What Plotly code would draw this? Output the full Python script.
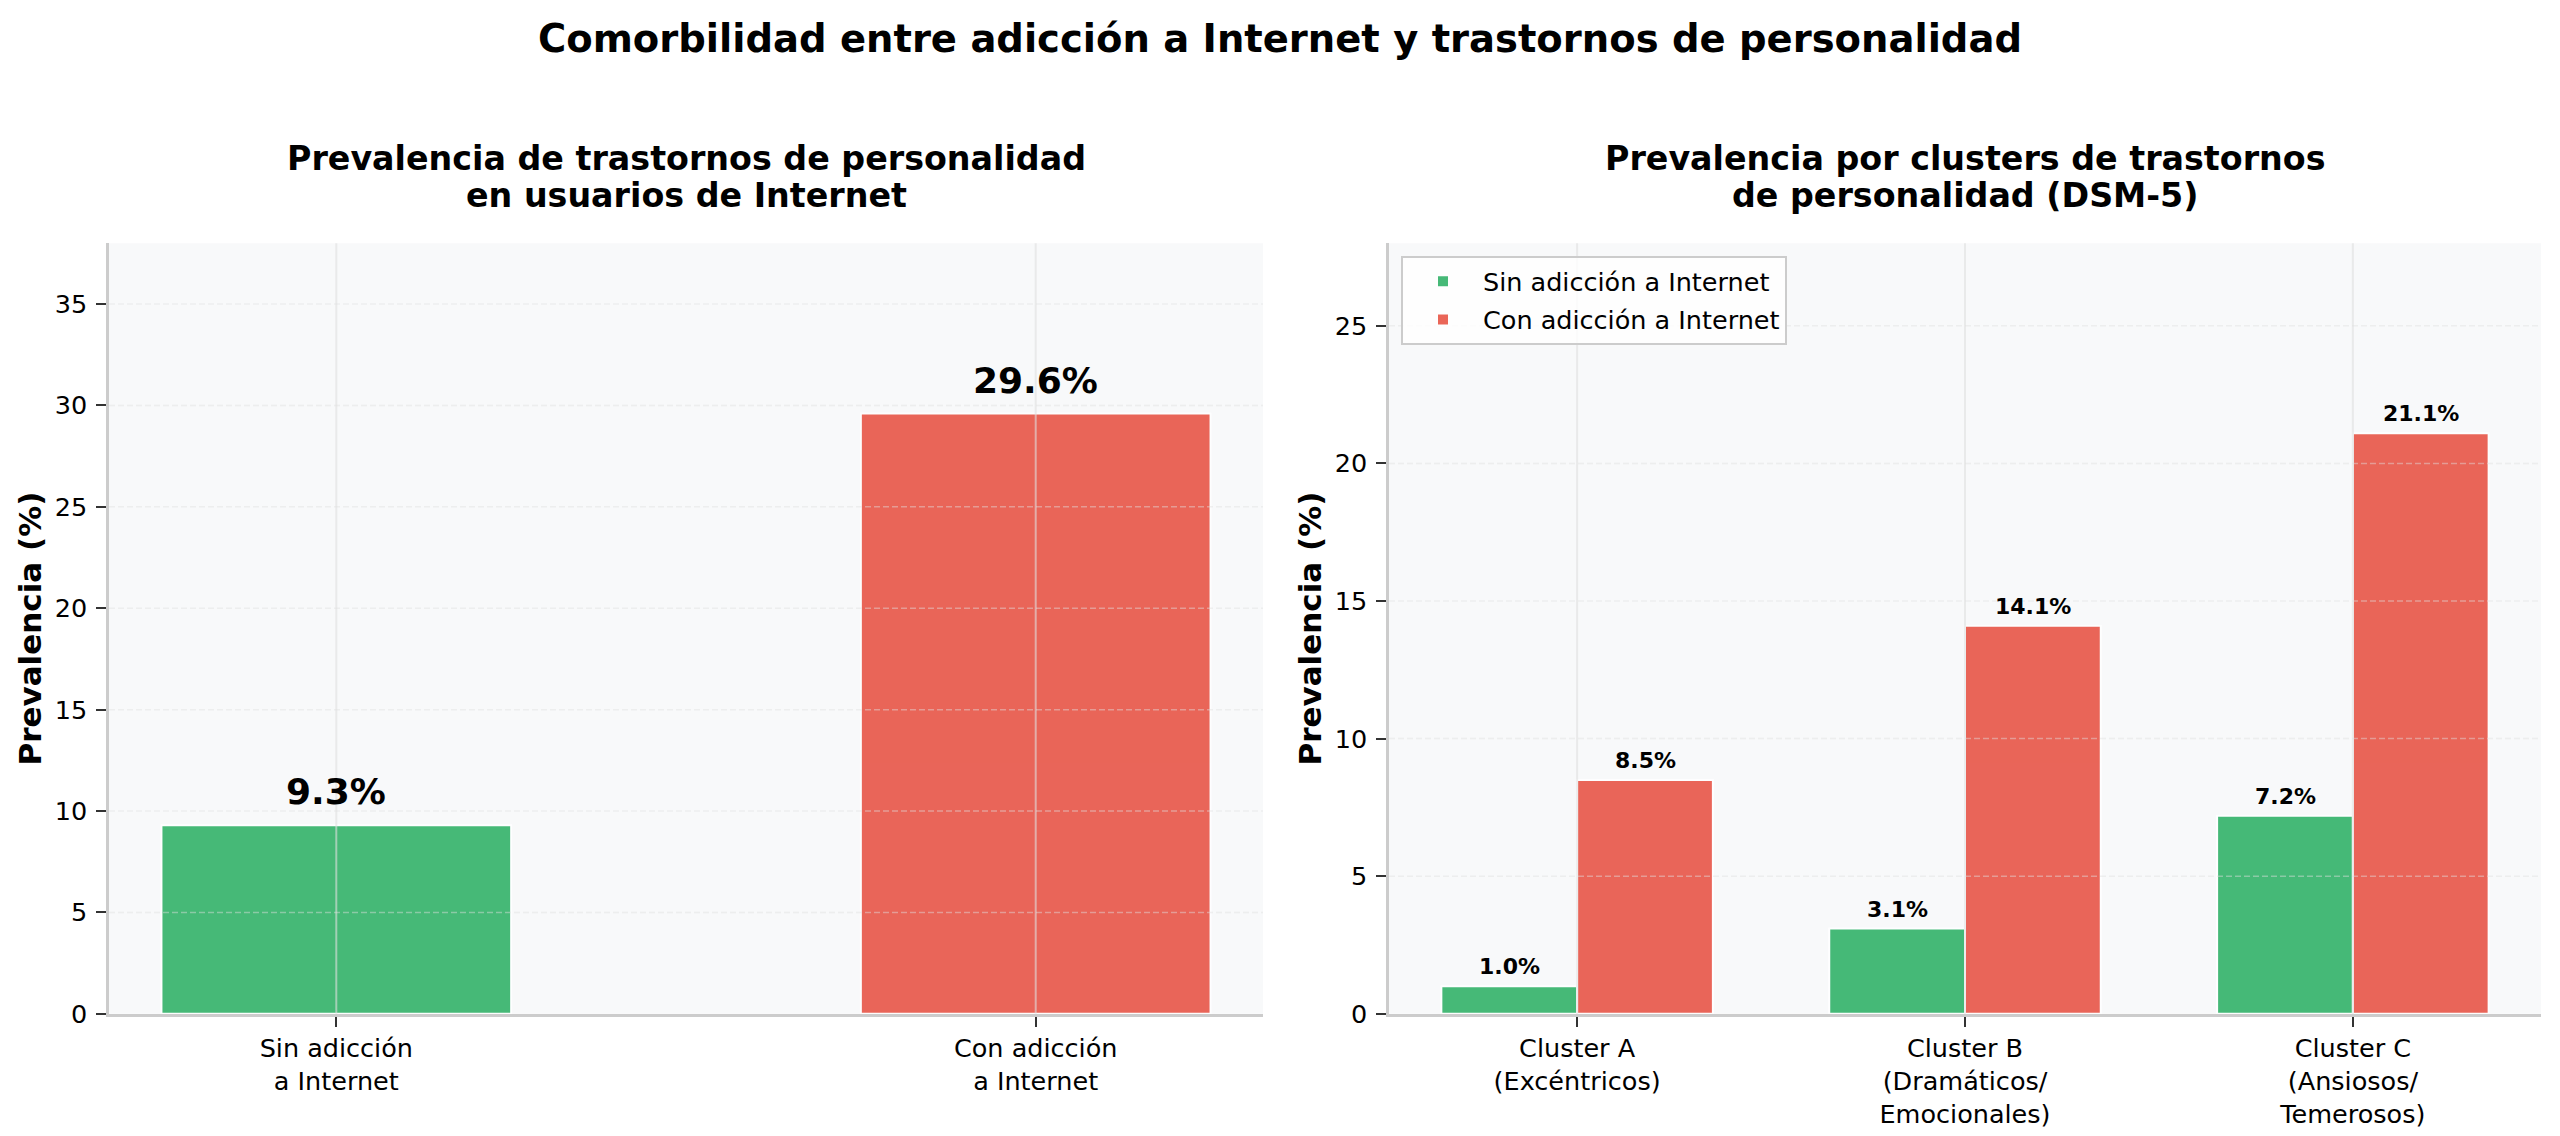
import plotly.graph_objects as go

# ---------------- data ----------------
left_categories = ["Sin adicción<br>a Internet", "Con adicción<br>a Internet"]
left_values = [9.3, 29.6]

cluster_labels = ["Cluster A<br>(Excéntricos)",
                  "Cluster B<br>(Dramáticos/<br>Emocionales)",
                  "Cluster C<br>(Ansiosos/<br>Temerosos)"]
sin_values = [1.0, 3.1, 7.2]
con_values = [8.5, 14.1, 21.1]

series_names = ["Sin adicción a Internet", "Con adicción a Internet"]
left_yticks = [0, 5, 10, 15, 20, 25, 30, 35]
right_yticks = [0, 5, 10, 15, 20, 25]

suptitle = "Comorbilidad entre adicción a Internet y trastornos de personalidad"
left_title = ["Prevalencia de trastornos de personalidad", "en usuarios de Internet"]
right_title = ["Prevalencia por clusters de trastornos", "de personalidad (DSM-5)"]
ylabel = "Prevalencia (%)"

# ---------------- style ----------------
PAGE_MARGIN = 8                      # default <body> margin of the html page
KY = 1136 / 1152                     # observed vertical scale of the capture
W, H = 2560 - 2 * PAGE_MARGIN, 1152 - 2 * PAGE_MARGIN
GREEN = "#27ae60"
RED = "#e74c3c"
BG = "#f8f9fa"
FONT = "DejaVu Sans"
TXT = "#000000"
LEFT_BAR_W = 0.5
RIGHT_BAR_W = 0.35


def px_x(p):
    """target pixel -> paper fraction"""
    return (p - PAGE_MARGIN) / W


def px_y(p):
    return 1 - (p / KY - PAGE_MARGIN) / H


xl = [px_x(109), px_x(1263)]
xr = [px_x(1389), px_x(2541)]
yd = [px_y(1013), px_y(243)]

fig = go.Figure()

fig.add_trace(go.Bar(
    x=left_categories, y=left_values, width=LEFT_BAR_W,
    marker=dict(color=[GREEN, RED], line=dict(color="white", width=2)),
    opacity=0.85, showlegend=False, xaxis="x", yaxis="y",
))

fig.add_trace(go.Bar(
    x=cluster_labels, y=sin_values, name=series_names[0],
    marker=dict(color=GREEN, line=dict(color="white", width=2)),
    opacity=0.85, xaxis="x2", yaxis="y2", legendgroup="g1",
))
fig.add_trace(go.Bar(
    x=cluster_labels, y=con_values, name=series_names[1],
    marker=dict(color=RED, line=dict(color="white", width=2)),
    opacity=0.85, xaxis="x2", yaxis="y2", legendgroup="g2",
))

axis_common = dict(
    showline=True, linecolor="#cccccc", linewidth=2.5, mirror=False,
    ticks="outside", ticklen=10, tickwidth=2, tickcolor="#333333",
    tickfont=dict(family=FONT, size=25.5, color=TXT),
    showgrid=False, zeroline=False, fixedrange=True,
)

fig.update_layout(
    width=W, height=H,
    margin=dict(l=0, r=0, t=0, b=0),
    paper_bgcolor="white", plot_bgcolor=BG,
    barmode="group", bargap=1 - 2 * RIGHT_BAR_W, bargroupgap=0,
    font=dict(family=FONT, color=TXT),
    xaxis=dict(domain=xl, anchor="y", type="category",
               range=[-0.325, 1.325], **axis_common),
    yaxis=dict(domain=yd, anchor="x", range=[0, 38],
               tickvals=left_yticks, ticklabelstandoff=4, **axis_common),
    xaxis2=dict(domain=xr, anchor="y2", type="category",
                range=[-0.485, 2.485], **axis_common),
    yaxis2=dict(domain=yd, anchor="x2", range=[0, 28],
                tickvals=right_yticks, ticklabelstandoff=4, **axis_common),
    legend=dict(x=px_x(1401), y=px_y(256), xanchor="left", yanchor="top",
                bgcolor="rgba(255,255,255,0.8)", bordercolor="#cccccc",
                borderwidth=2, font=dict(family=FONT, size=25.5, color=TXT),
                tracegroupgap=2, traceorder="grouped", itemwidth=70),
    title=dict(text=suptitle, x=0.5, xanchor="center", y=px_y(37.5),
               yanchor="middle",
               font=dict(family=FONT, size=38.5, color=TXT, weight="bold")),
)

# gridlines drawn above the bars (as in the reference)
shapes = []
for t in left_yticks[1:]:
    shapes.append(dict(type="line", xref="x domain", yref="y", x0=0, x1=1, y0=t, y1=t,
                       layer="above", line=dict(color="rgba(224,224,224,0.45)", width=1.5, dash="6px,3px")))
for t in right_yticks[1:]:
    shapes.append(dict(type="line", xref="x2 domain", yref="y2", x0=0, x1=1, y0=t, y1=t,
                       layer="above", line=dict(color="rgba(224,224,224,0.45)", width=1.5, dash="6px,3px")))
for i in range(len(left_categories)):
    shapes.append(dict(type="line", xref="x", yref="y domain", x0=i, x1=i, y0=0, y1=1,
                       layer="above", line=dict(color="rgba(224,224,224,0.6)", width=2)))
for i in range(len(cluster_labels)):
    shapes.append(dict(type="line", xref="x2", yref="y2 domain", x0=i, x1=i, y0=0, y1=1,
                       layer="above", line=dict(color="rgba(224,224,224,0.6)", width=2)))
fig.update_layout(shapes=shapes)

ann = []
# subplot titles (two lines each)
for lines, dom in ((left_title, xl), (right_title, xr)):
    cx = (dom[0] + dom[1]) / 2
    for line, cy in zip(lines, (158, 195)):
        ann.append(dict(text=line, xref="paper", yref="paper", x=cx, y=px_y(cy),
                        xanchor="center", yanchor="middle", showarrow=False,
                        font=dict(family=FONT, size=33.3, color=TXT, weight="bold")))
# y-axis titles
for xp in (30, 1310):
    ann.append(dict(text=ylabel, xref="paper", yref="paper", x=px_x(xp), y=px_y(628),
                    xanchor="center", yanchor="middle", textangle=-90, showarrow=False,
                    font=dict(family=FONT, size=31, color=TXT, weight="bold")))
# value labels, left
for i, v in enumerate(left_values):
    ann.append(dict(text=f"{v:.1f}%", xref="x", yref="y", x=i, y=v,
                    xanchor="center", yanchor="bottom", yshift=11, showarrow=False,
                    font=dict(family=FONT, size=36, color=TXT, weight="bold")))
# value labels, right
for vals, off in ((sin_values, -RIGHT_BAR_W / 2), (con_values, RIGHT_BAR_W / 2)):
    for i, v in enumerate(vals):
        ann.append(dict(text=f"{v:.1f}%", xref="x2", yref="y2", x=i + off, y=v,
                        xanchor="center", yanchor="bottom", yshift=5, showarrow=False,
                        font=dict(family=FONT, size=22, color=TXT, weight="bold")))
fig.update_layout(annotations=ann)

fig.write_html("out.html")
